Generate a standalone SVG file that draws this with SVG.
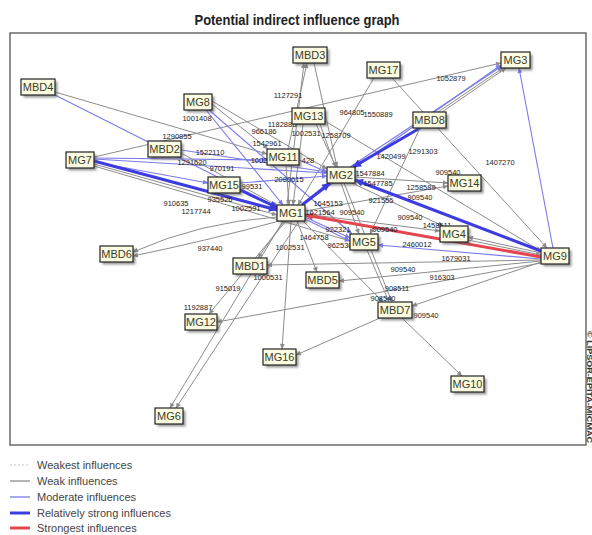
<svg xmlns="http://www.w3.org/2000/svg" width="592" height="535" viewBox="0 0 592 535">
<style>
.w{stroke:#8c8c8c;stroke-width:1;fill:none}
.m{stroke:#7a7ae8;stroke-width:1.1;fill:none}
.s{stroke:#3c3ce0;stroke-width:3;fill:none}
.r{stroke:#e44650;stroke-width:3;fill:none}
.lb{font-family:"Liberation Sans",Arial,sans-serif;font-size:7.5px;fill:#1a1a1a;text-anchor:middle}
.bx{fill:#fbfbe2;stroke:#222;stroke-width:1.2}
.sh{fill:#555;opacity:.6}
.nt{font-family:"Liberation Sans",Arial,sans-serif;font-size:11px;fill:#3c3c28;text-anchor:middle}
.lg{font-family:"Liberation Sans",Arial,sans-serif;font-size:11px;fill:#444}
</style>
<defs>
<filter id="blur" x="-20%" y="-30%" width="150%" height="170%"><feGaussianBlur stdDeviation="1"/></filter>
<marker id="aw" viewBox="0 0 10 10" refX="10" refY="5" markerWidth="7" markerHeight="5" markerUnits="userSpaceOnUse" orient="auto"><path d="M0,0L10,5L0,10z" fill="#8c8c8c"/></marker>
<marker id="am" viewBox="0 0 10 10" refX="10" refY="5" markerWidth="7" markerHeight="5" markerUnits="userSpaceOnUse" orient="auto"><path d="M0,0L10,5L0,10z" fill="#7a7ae8"/></marker>
<marker id="as" viewBox="0 0 10 10" refX="10" refY="5" markerWidth="10" markerHeight="8" markerUnits="userSpaceOnUse" orient="auto"><path d="M0,0L10,5L0,10z" fill="#3c3ce0"/></marker>
<marker id="ar" viewBox="0 0 10 10" refX="10" refY="5" markerWidth="10" markerHeight="8" markerUnits="userSpaceOnUse" orient="auto"><path d="M0,0L10,5L0,10z" fill="#e44650"/></marker>
</defs>
<rect x="0" y="0" width="592" height="535" fill="#ffffff"/>
<text x="297" y="25" font-family="Liberation Sans,Arial,sans-serif" font-size="15" font-weight="bold" fill="#222" text-anchor="middle" textLength="205" lengthAdjust="spacingAndGlyphs">Potential indirect influence graph</text>
<rect x="10" y="33" width="576" height="412" fill="none" stroke="#555" stroke-width="1.3"/>
<text transform="translate(586.5,331) rotate(90)" font-family="Liberation Sans,Arial,sans-serif" font-size="7" font-weight="bold" fill="#333" textLength="112" lengthAdjust="spacingAndGlyphs">© LIPSOR-EPITA-MICMAC</text>

<g id="connectors">
<line class="w" x1="55" y1="92" x2="267" y2="154" marker-end="url(#aw)"/>
<line class="m" x1="55" y1="95" x2="277" y2="207" marker-end="url(#am)"/>
<line class="w" x1="94" y1="157" x2="501" y2="63" marker-end="url(#aw)"/>
<line class="m" x1="94" y1="159" x2="327" y2="173" marker-end="url(#am)"/>
<line class="m" x1="94" y1="158" x2="267" y2="160" marker-end="url(#am)"/>
<line class="w" x1="94" y1="164" x2="277" y2="215" marker-end="url(#aw)"/>
<line class="w" x1="94" y1="166" x2="350" y2="241" marker-end="url(#aw)"/>
<line class="m" x1="94" y1="162" x2="208" y2="183" marker-end="url(#am)"/>
<line class="w" x1="212" y1="104" x2="268" y2="149" marker-end="url(#aw)"/>
<line class="w" x1="212" y1="101" x2="327" y2="169" marker-end="url(#aw)"/>
<line class="m" x1="206" y1="110" x2="283" y2="205" marker-end="url(#am)"/>
<line class="m" x1="209" y1="110" x2="352" y2="234" marker-end="url(#am)"/>
<line class="w" x1="287" y1="205" x2="304" y2="63" marker-end="url(#aw)"/>
<line class="w" x1="288" y1="149" x2="307" y2="63" marker-end="url(#aw)"/>
<line class="w" x1="314" y1="63" x2="337" y2="167" marker-end="url(#aw)"/>
<line class="w" x1="316" y1="124" x2="336" y2="167" marker-end="url(#aw)"/>
<line class="w" x1="303" y1="124" x2="293" y2="205" marker-end="url(#aw)"/>
<line class="w" x1="320" y1="124" x2="359" y2="234" marker-end="url(#aw)"/>
<line class="w" x1="325" y1="121" x2="541" y2="251" marker-end="url(#aw)"/>
<line class="w" x1="374" y1="78" x2="298" y2="205" marker-end="url(#aw)"/>
<line class="w" x1="392" y1="78" x2="547" y2="248" marker-end="url(#aw)"/>
<line class="w" x1="438" y1="112" x2="503" y2="68" marker-end="url(#aw)"/>
<line class="w" x1="442" y1="112" x2="506" y2="68" marker-end="url(#aw)"/>
<line class="m" x1="350" y1="167" x2="502" y2="66" marker-end="url(#am)"/>
<line class="m" x1="302" y1="205" x2="501" y2="65" marker-end="url(#am)"/>
<line class="s" x1="420" y1="128" x2="353" y2="167" marker-end="url(#as)"/>
<line class="w" x1="420" y1="128" x2="370" y2="234" marker-end="url(#aw)"/>
<line class="m" x1="553" y1="248" x2="519" y2="68" marker-end="url(#am)"/>
<line class="w" x1="541" y1="253" x2="468" y2="237" marker-end="url(#aw)"/>
<line class="w" x1="468" y1="240" x2="541" y2="255" marker-end="url(#aw)"/>
<line class="m" x1="541" y1="259" x2="378" y2="245" marker-end="url(#am)"/>
<line class="w" x1="541" y1="260" x2="267" y2="265" marker-end="url(#aw)"/>
<line class="w" x1="541" y1="261" x2="339" y2="281" marker-end="url(#aw)"/>
<line class="w" x1="541" y1="263" x2="217" y2="322" marker-end="url(#aw)"/>
<line class="w" x1="541" y1="262" x2="412" y2="306" marker-end="url(#aw)"/>
<line class="w" x1="355" y1="177" x2="448" y2="183" marker-end="url(#aw)"/>
<line class="w" x1="305" y1="211" x2="448" y2="186" marker-end="url(#aw)"/>
<line class="w" x1="305" y1="214" x2="440" y2="231" marker-end="url(#aw)"/>
<line class="w" x1="352" y1="183" x2="443" y2="226" marker-end="url(#aw)"/>
<line class="m" x1="305" y1="217" x2="350" y2="238" marker-end="url(#am)"/>
<line class="m" x1="305" y1="219" x2="350" y2="241" marker-end="url(#am)"/>
<line class="w" x1="367" y1="250" x2="389" y2="302" marker-end="url(#aw)"/>
<path class="w" d="M277,217 Q200,222 133,252" marker-end="url(#aw)"/>
<path class="w" d="M279,221 Q210,240 133,256" marker-end="url(#aw)"/>
<line class="w" x1="284" y1="221" x2="258" y2="258" marker-end="url(#aw)"/>
<line class="w" x1="286" y1="221" x2="209" y2="314" marker-end="url(#aw)"/>
<line class="w" x1="283" y1="221" x2="170" y2="408" marker-end="url(#aw)"/>
<line class="w" x1="299" y1="221" x2="176" y2="408" marker-end="url(#aw)"/>
<line class="w" x1="291" y1="221" x2="282" y2="349" marker-end="url(#aw)"/>
<line class="w" x1="297" y1="221" x2="317" y2="272" marker-end="url(#aw)"/>
<line class="w" x1="303" y1="221" x2="383" y2="302" marker-end="url(#aw)"/>
<line class="w" x1="344" y1="183" x2="392" y2="302" marker-end="url(#aw)"/>
<line class="w" x1="380" y1="318" x2="296" y2="355" marker-end="url(#aw)"/>
<line class="w" x1="402" y1="318" x2="462" y2="376" marker-end="url(#aw)"/>
<line class="w" x1="286" y1="165" x2="289" y2="205" marker-end="url(#aw)"/>
<line class="m" x1="299" y1="160" x2="327" y2="172" marker-end="url(#am)"/>
<line class="w" x1="181" y1="153" x2="278" y2="206" marker-end="url(#aw)"/>
<line class="m" x1="181" y1="150" x2="327" y2="172" marker-end="url(#am)"/>
<line class="m" x1="240" y1="183" x2="327" y2="176" marker-end="url(#am)"/>
<line class="s" x1="94" y1="161" x2="277" y2="210" marker-end="url(#as)"/>
<line class="s" x1="240" y1="190" x2="278" y2="208" marker-end="url(#as)"/>
<line class="s" x1="302" y1="205" x2="330" y2="183" marker-end="url(#as)"/>
<line class="s" x1="541" y1="251" x2="355" y2="180" marker-end="url(#as)"/>
<line class="r" x1="541" y1="257" x2="305" y2="215" marker-end="url(#ar)"/>
</g>

<g id="edge-labels">
<text class="lb" x="177" y="138.5">1290855</text>
<text class="lb" x="210" y="154.5">1522110</text>
<text class="lb" x="192" y="164.5">1291620</text>
<text class="lb" x="222" y="170.5">970191</text>
<text class="lb" x="252" y="188.5">99531</text>
<text class="lb" x="220" y="201.5">935526</text>
<text class="lb" x="176" y="205.5">910635</text>
<text class="lb" x="196" y="213.5">1217744</text>
<text class="lb" x="246" y="210.5">1002591</text>
<text class="lb" x="210" y="250.5">937440</text>
<text class="lb" x="197" y="120.5">1001408</text>
<text class="lb" x="288" y="97.5">1127291</text>
<text class="lb" x="282" y="126.5">1182885</text>
<text class="lb" x="264" y="133.5">966186</text>
<text class="lb" x="306" y="135.5">1002531</text>
<text class="lb" x="336" y="137.5">1258709</text>
<text class="lb" x="267" y="145.5">1542961</text>
<text class="lb" x="259" y="162.5">1002</text>
<text class="lb" x="308" y="162.5">428</text>
<text class="lb" x="352" y="114.5">964805</text>
<text class="lb" x="378" y="116.5">1550889</text>
<text class="lb" x="451" y="80.5">1052879</text>
<text class="lb" x="391" y="158.5">1420499</text>
<text class="lb" x="423" y="154">1291303</text>
<text class="lb" x="500" y="164.5">1407270</text>
<text class="lb" x="448" y="174.5">909540</text>
<text class="lb" x="421" y="189.5">1258589</text>
<text class="lb" x="420" y="199.5">909540</text>
<text class="lb" x="381" y="202.5">921555</text>
<text class="lb" x="370" y="176">1547884</text>
<text class="lb" x="378" y="186">1547785</text>
<text class="lb" x="289" y="181.5">2080615</text>
<text class="lb" x="328" y="205.5">1645153</text>
<text class="lb" x="320" y="214.5">1621564</text>
<text class="lb" x="352" y="214.5">909540</text>
<text class="lb" x="410" y="219.5">909540</text>
<text class="lb" x="437" y="227.5">1458511</text>
<text class="lb" x="385" y="231.5">909540</text>
<text class="lb" x="417" y="246.5">2460012</text>
<text class="lb" x="314" y="240">1464758</text>
<text class="lb" x="338" y="232">922321</text>
<text class="lb" x="340" y="248">962530</text>
<text class="lb" x="290" y="249.5">1002531</text>
<text class="lb" x="456" y="260.5">1679031</text>
<text class="lb" x="403" y="271.5">909540</text>
<text class="lb" x="442" y="279.5">916303</text>
<text class="lb" x="268" y="279.5">1000531</text>
<text class="lb" x="397" y="290.5">908511</text>
<text class="lb" x="383" y="300.5">908540</text>
<text class="lb" x="426" y="317.5">909540</text>
<text class="lb" x="228" y="290.5">915019</text>
<text class="lb" x="198" y="309.5">1192887</text>
</g>

<g id="MBD3"><rect class="sh" filter="url(#blur)" x="295.5" y="49.5" width="34" height="16"/><rect class="bx" x="293" y="47" width="34" height="16"/><text class="nt" x="310" y="59">MBD3</text></g>
<g id="MG17"><rect class="sh" filter="url(#blur)" x="369.5" y="64.5" width="33" height="16"/><rect class="bx" x="367" y="62" width="33" height="16"/><text class="nt" x="383.5" y="74">MG17</text></g>
<g id="MG3"><rect class="sh" filter="url(#blur)" x="503.5" y="54.5" width="29" height="16"/><rect class="bx" x="501" y="52" width="29" height="16"/><text class="nt" x="515.5" y="64">MG3</text></g>
<g id="MBD4"><rect class="sh" filter="url(#blur)" x="23.5" y="81.5" width="34" height="16"/><rect class="bx" x="21" y="79" width="34" height="16"/><text class="nt" x="38" y="91">MBD4</text></g>
<g id="MG8"><rect class="sh" filter="url(#blur)" x="186.5" y="96.5" width="28" height="16"/><rect class="bx" x="184" y="94" width="28" height="16"/><text class="nt" x="198" y="106">MG8</text></g>
<g id="MG13"><rect class="sh" filter="url(#blur)" x="294.5" y="110.5" width="33" height="16"/><rect class="bx" x="292" y="108" width="33" height="16"/><text class="nt" x="308.5" y="120">MG13</text></g>
<g id="MBD8"><rect class="sh" filter="url(#blur)" x="415.5" y="114.5" width="33" height="16"/><rect class="bx" x="413" y="112" width="33" height="16"/><text class="nt" x="429.5" y="124">MBD8</text></g>
<g id="MBD2"><rect class="sh" filter="url(#blur)" x="150.5" y="143.5" width="33" height="16"/><rect class="bx" x="148" y="141" width="33" height="16"/><text class="nt" x="164.5" y="153">MBD2</text></g>
<g id="MG7"><rect class="sh" filter="url(#blur)" x="68.5" y="154.5" width="28" height="16"/><rect class="bx" x="66" y="152" width="28" height="16"/><text class="nt" x="80" y="164">MG7</text></g>
<g id="MG11"><rect class="sh" filter="url(#blur)" x="269.5" y="151.5" width="32" height="16"/><rect class="bx" x="267" y="149" width="32" height="16"/><text class="nt" x="283" y="161">MG11</text></g>
<g id="MG2"><rect class="sh" filter="url(#blur)" x="329.5" y="169.5" width="28" height="16"/><rect class="bx" x="327" y="167" width="28" height="16"/><text class="nt" x="341" y="179">MG2</text></g>
<g id="MG14"><rect class="sh" filter="url(#blur)" x="450.5" y="177.5" width="33" height="16"/><rect class="bx" x="448" y="175" width="33" height="16"/><text class="nt" x="464.5" y="187">MG14</text></g>
<g id="MG15"><rect class="sh" filter="url(#blur)" x="210.5" y="179.5" width="32" height="16"/><rect class="bx" x="208" y="177" width="32" height="16"/><text class="nt" x="224" y="189">MG15</text></g>
<g id="MG1"><rect class="sh" filter="url(#blur)" x="279.5" y="207.5" width="28" height="16"/><rect class="bx" x="277" y="205" width="28" height="16"/><text class="nt" x="291" y="217">MG1</text></g>
<g id="MG4"><rect class="sh" filter="url(#blur)" x="442.5" y="228.5" width="28" height="16"/><rect class="bx" x="440" y="226" width="28" height="16"/><text class="nt" x="454" y="238">MG4</text></g>
<g id="MG9"><rect class="sh" filter="url(#blur)" x="543.5" y="250.5" width="28" height="16"/><rect class="bx" x="541" y="248" width="28" height="16"/><text class="nt" x="555" y="260">MG9</text></g>
<g id="MG5"><rect class="sh" filter="url(#blur)" x="352.5" y="236.5" width="28" height="16"/><rect class="bx" x="350" y="234" width="28" height="16"/><text class="nt" x="364" y="246">MG5</text></g>
<g id="MBD6"><rect class="sh" filter="url(#blur)" x="102.5" y="248.5" width="33" height="16"/><rect class="bx" x="100" y="246" width="33" height="16"/><text class="nt" x="116.5" y="258">MBD6</text></g>
<g id="MBD1"><rect class="sh" filter="url(#blur)" x="235.5" y="260.5" width="34" height="16"/><rect class="bx" x="233" y="258" width="34" height="16"/><text class="nt" x="250" y="270">MBD1</text></g>
<g id="MBD5"><rect class="sh" filter="url(#blur)" x="308.5" y="274.5" width="33" height="16"/><rect class="bx" x="306" y="272" width="33" height="16"/><text class="nt" x="322.5" y="284">MBD5</text></g>
<g id="MBD7"><rect class="sh" filter="url(#blur)" x="380.5" y="304.5" width="34" height="16"/><rect class="bx" x="378" y="302" width="34" height="16"/><text class="nt" x="395" y="314">MBD7</text></g>
<g id="MG12"><rect class="sh" filter="url(#blur)" x="187.5" y="316.5" width="32" height="16"/><rect class="bx" x="185" y="314" width="32" height="16"/><text class="nt" x="201" y="326">MG12</text></g>
<g id="MG16"><rect class="sh" filter="url(#blur)" x="265.5" y="351.5" width="33" height="16"/><rect class="bx" x="263" y="349" width="33" height="16"/><text class="nt" x="279.5" y="361">MG16</text></g>
<g id="MG10"><rect class="sh" filter="url(#blur)" x="453.5" y="378.5" width="33" height="16"/><rect class="bx" x="451" y="376" width="33" height="16"/><text class="nt" x="467.5" y="388">MG10</text></g>
<g id="MG6"><rect class="sh" filter="url(#blur)" x="157.5" y="410.5" width="28" height="16"/><rect class="bx" x="155" y="408" width="28" height="16"/><text class="nt" x="169" y="420">MG6</text></g>

<g id="legend">
<line x1="10" y1="465" x2="30" y2="465" stroke="#c8c8c8" stroke-width="1" stroke-dasharray="2,2"/>
<text class="lg" x="37" y="469">Weakest influences</text>
<line x1="10" y1="481" x2="30" y2="481" stroke="#8c8c8c" stroke-width="1.3"/>
<text class="lg" x="37" y="485">Weak influences</text>
<line x1="10" y1="497" x2="30" y2="497" stroke="#7a7ae8" stroke-width="1.3"/>
<text class="lg" x="37" y="501">Moderate influences</text>
<line x1="10" y1="513" x2="30" y2="513" stroke="#3c3ce0" stroke-width="3"/>
<text class="lg" x="37" y="517">Relatively strong influences</text>
<line x1="10" y1="528" x2="30" y2="528" stroke="#e44650" stroke-width="3"/>
<text class="lg" x="37" y="532">Strongest influences</text>
</g>
</svg>
